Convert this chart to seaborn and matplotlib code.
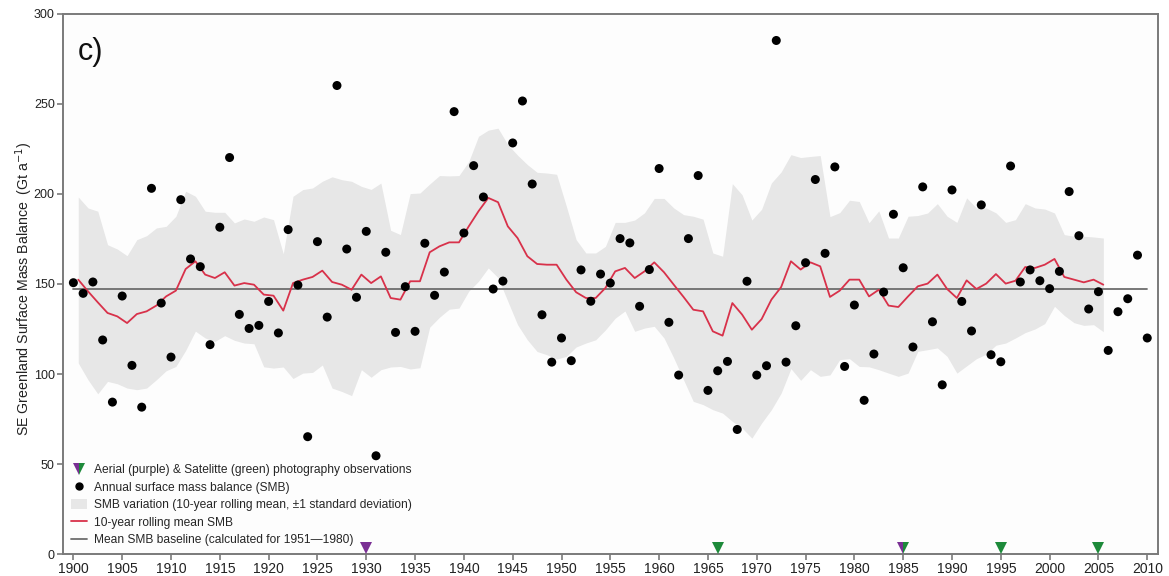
import numpy as np
import pandas as pd
import matplotlib
matplotlib.use("Agg")
import matplotlib.pyplot as plt
import seaborn as sns
from matplotlib.lines import Line2D
from matplotlib.patches import Patch

# annual SMB values (Gt/a), 1900-2010
years = list(range(1900, 2011))
smb = [150.7, 144.8, 151.1, 118.9, 84.4, 143.3, 104.8, 81.6, 203.1, 139.4,
       109.4, 196.8, 163.9, 159.6, 116.3, 181.5, 220.2, 133.1, 125.3, 127.0,
       140.3, 122.8, 180.2, 149.4, 65.2, 173.5, 131.6, 260.2, 169.4, 142.6,
       179.2, 54.6, 167.6, 123.1, 148.5, 123.7, 172.6, 143.7, 156.6, 245.7,
       178.3, 215.7, 198.3, 147.2, 151.6, 228.3, 251.6, 205.5, 132.9, 106.6,
       120.0, 107.4, 157.8, 140.4, 155.5, 150.5, 175.2, 172.8, 137.6, 158.0,
       214.1, 128.7, 99.4, 175.2, 210.2, 90.9, 101.8, 107.0, 69.2, 151.5,
       99.4, 104.6, 285.2, 106.6, 126.8, 161.8, 208.0, 167.0, 215.0, 104.2,
       138.3, 85.4, 111.1, 145.5, 188.7, 159.0, 115.0, 203.9, 129.0, 94.0,
       202.2, 140.3, 123.9, 193.9, 110.7, 106.8, 215.5, 151.1, 157.8, 151.8,
       147.4, 157.0, 201.3, 176.8, 136.1, 145.7, 113.1, 134.6, 141.8, 166.0,
       120.0]

# 10-year rolling mean and +/-1 sd envelope, plotted at window centres
roll_years = [y + 0.5 for y in range(1900, 2006)]
roll_mean = [152.4, 145.9, 139.8, 133.9, 132.0, 128.3, 133.3, 134.8, 138.0, 143.1,
             146.3, 158.3, 162.6, 155.2, 153.3, 156.5, 149.1, 150.5, 149.6, 144.1,
             143.5, 135.2, 150.5, 152.4, 153.9, 157.4, 151.1, 149.6, 146.8, 155.2,
             150.5, 154.2, 142.2, 141.3, 151.5, 151.5, 167.6, 170.9, 173.1, 173.1,
             182.0, 190.4, 197.8, 195.4, 182.0, 175.5, 165.4, 161.1, 160.7, 160.7,
             152.4, 145.4, 142.2, 142.2, 147.8, 157.0, 158.9, 153.3, 157.0, 162.0,
             156.5, 149.6, 142.8, 135.7, 134.8, 123.7, 121.3, 139.4, 133.0, 124.6,
             130.5, 141.3, 148.3, 162.6, 158.0, 162.0, 159.8, 142.8, 146.3, 152.4,
             152.4, 143.1, 146.8, 138.0, 137.2, 143.1, 148.7, 150.2, 155.2, 147.2,
             142.2, 152.0, 147.2, 150.2, 155.5, 150.2, 151.8, 159.4, 158.9, 160.7,
             163.9, 153.9, 152.4, 150.9, 152.4, 149.6]
roll_upper = [198.3, 192.2, 190.4, 171.8, 169.4, 165.7, 174.6, 176.8, 181.1, 182.0,
              187.6, 201.5, 198.7, 190.4, 189.8, 189.8, 183.9, 186.1, 184.8, 187.2,
              185.7, 166.8, 198.7, 202.4, 203.3, 207.0, 209.5, 207.9, 207.0, 204.2,
              202.5, 206.0, 179.8, 177.4, 200.2, 200.5, 205.5, 210.2, 210.0, 210.2,
              218.0, 232.0, 235.4, 236.5, 227.4, 221.5, 216.3, 212.0, 211.6, 210.9,
              193.1, 174.6, 167.2, 167.2, 170.9, 184.2, 184.2, 185.5, 189.5, 197.5,
              197.5, 192.2, 188.5, 187.6, 186.0, 167.2, 165.4, 205.7, 199.5, 185.5,
              191.5, 206.1, 212.2, 221.8, 220.2, 220.8, 221.3, 187.4, 189.6, 196.5,
              195.8, 184.0, 190.6, 175.5, 175.5, 187.6, 188.0, 189.4, 194.6, 187.6,
              184.2, 197.8, 192.2, 192.2, 189.5, 184.2, 185.7, 194.6, 192.2, 191.6,
              189.4, 177.4, 176.5, 176.5, 176.1, 175.5]
roll_lower = [106.1, 96.8, 89.0, 95.9, 94.6, 92.2, 91.3, 92.2, 96.8, 101.8,
              104.2, 113.1, 123.8, 120.0, 118.1, 121.3, 118.7, 117.2, 116.8, 104.0,
              103.3, 103.9, 97.5, 100.5, 100.9, 105.0, 92.2, 90.3, 88.0, 102.4,
              98.2, 102.4, 103.9, 104.2, 102.8, 103.5, 126.0, 131.5, 136.0, 136.6,
              146.0, 151.5, 158.9, 153.5, 140.4, 127.4, 119.0, 112.5, 110.7, 108.3,
              109.8, 115.0, 117.2, 119.0, 124.5, 131.0, 135.0, 123.7, 125.5, 126.5,
              120.0, 108.9, 96.8, 84.8, 83.0, 80.2, 78.3, 73.7, 70.0, 64.4,
              72.8, 80.2, 89.4, 103.0, 96.5, 102.4, 98.7, 99.5, 108.0, 108.5,
              104.2, 104.0, 102.4, 100.5, 98.7, 100.5, 112.6, 113.5, 114.5, 109.8,
              100.5, 104.5, 108.5, 111.0, 116.0, 117.2, 120.0, 123.0, 125.0, 128.0,
              137.6, 132.5, 128.5, 127.0, 127.4, 123.5]

baseline = 147.4  # mean SMB 1951-1980
baseline_span = [1900, 2010]

# photography observations
obs_years = [1930, 1966, 1985, 1995, 2005]
obs_kind = ["aerial", "satellite", "both", "satellite", "satellite"]

PURPLE = "#7a2f94"
GREEN = "#1d8a3a"
RED = "#d8314a"
BAND = "#e7e7e7"
SPINE = "#7a7a7a"

sns.set_style("ticks")
plt.rcParams["font.family"] = ["Liberation Sans", "DejaVu Sans"]

df = pd.DataFrame({"year": years, "smb": smb})
roll = pd.DataFrame({"year": roll_years, "mean": roll_mean,
                     "upper": roll_upper, "lower": roll_lower})

fig = plt.figure(figsize=(11.69, 5.76), dpi=100)
ax = fig.add_axes([0.054, 0.038, 0.937, 0.938])
ax.set_facecolor("#fdfdfd")

ax.fill_between(roll["year"], roll["lower"], roll["upper"],
                color=BAND, linewidth=0, zorder=1)
ax.plot(baseline_span, [baseline, baseline], color="#6e6e6e", lw=1.3, zorder=2)
sns.lineplot(data=roll, x="year", y="mean", ax=ax, color=RED, lw=1.3,
             zorder=3, legend=False)
sns.scatterplot(data=df, x="year", y="smb", ax=ax, color="black", s=42,
                edgecolor="none", zorder=4, legend=False)

# observation triangles along the x axis
for yr, kind in zip(obs_years, obs_kind):
    if kind == "both":
        ax.plot(yr, 3.2, marker="v", ms=8, fillstyle="left",
                markerfacecolor=PURPLE, markerfacecoloralt=GREEN,
                markeredgewidth=0, clip_on=False, zorder=5)
    else:
        ax.plot(yr, 3.2, marker="v", ms=8, color=PURPLE if kind == "aerial" else GREEN,
                markeredgewidth=0, clip_on=False, zorder=5)

ax.set_xlim(1898.95, 2011.15)
ax.set_ylim(0, 300)
ax.set_xticks(range(1900, 2011, 5))
ax.set_yticks(range(0, 301, 50))
ax.set_xlabel("")
ax.set_ylabel("SE Greenland Surface Mass Balance  (Gt a$^{-1}$)", fontsize=10.2,
              color="#222222")
ax.yaxis.set_label_coords(-0.026, 0.49)
ax.tick_params(axis="both", colors="#222222", length=4,
               width=1.2, color=SPINE, pad=2)
ax.tick_params(axis="x", labelsize=10)
ax.tick_params(axis="y", labelsize=9)
for sp in ax.spines.values():
    sp.set_color(SPINE)
    sp.set_linewidth(1.4)

ax.text(0.013, 0.93, "c)", transform=ax.transAxes, fontsize=22,
        va="center", ha="left", color="#111111")

handles = [
    Line2D([], [], marker="v", ls="none", ms=8, fillstyle="left",
           markerfacecolor=PURPLE, markerfacecoloralt=GREEN, markeredgewidth=0),
    Line2D([], [], marker="o", ls="none", ms=5, color="black"),
    Patch(facecolor=BAND, edgecolor="none"),
    Line2D([], [], color=RED, lw=1.3),
    Line2D([], [], color="#6e6e6e", lw=1.3),
]
labels = [
    "Aerial (purple) & Satelitte (green) photography observations",
    "Annual surface mass balance (SMB)",
    "SMB variation (10-year rolling mean, \u00b11 standard deviation)",
    "10-year rolling mean SMB",
    "Mean SMB baseline (calculated for 1951\u20141980)",
]
ax.legend(handles, labels, loc="lower left", frameon=False, fontsize=8.65,
          handlelength=1.3, handleheight=0.9, handletextpad=0.65,
          labelspacing=0.45, borderaxespad=0.25, borderpad=0.4)

fig.savefig("out.png", dpi=100)
